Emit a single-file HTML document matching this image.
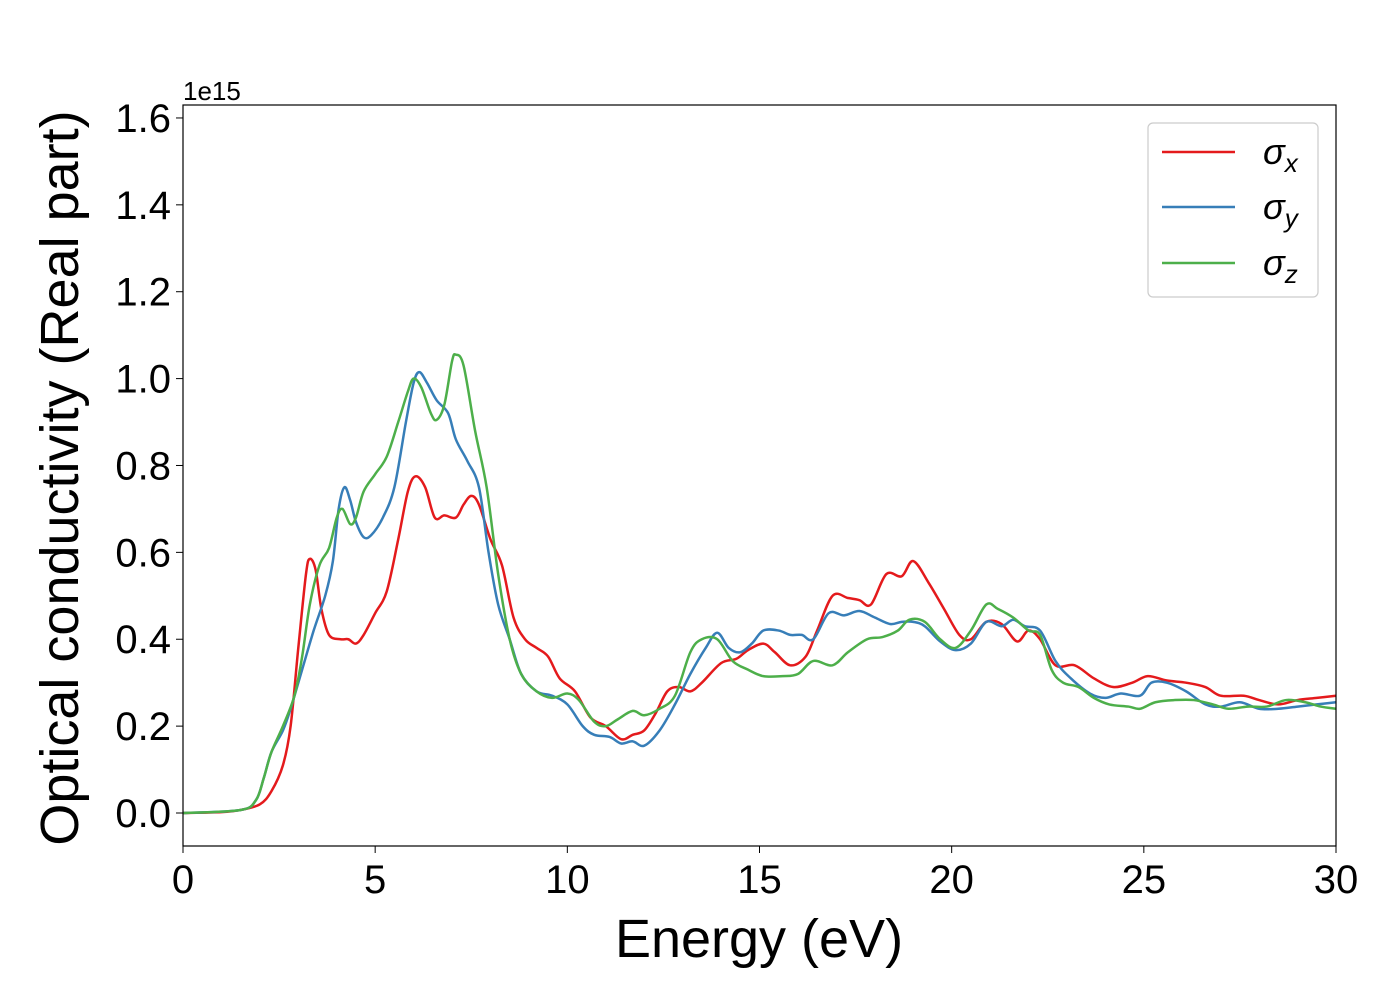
<!DOCTYPE html>
<html><head><meta charset="utf-8"><style>
body{margin:0;background:#fff}
svg text{font-family:"Liberation Sans","DejaVu Sans",sans-serif;fill:#000}
</style></head><body>
<svg id="chart" width="1400" height="1000" xmlns="http://www.w3.org/2000/svg">
<g id="axes"></g>
<g id="series"></g>
<rect x="183" y="105" width="1153" height="741" fill="none" stroke="#000" stroke-width="1.2"/>
<text x="183" y="100" font-size="26">1e15</text>
<text x="759" y="957" font-size="54" text-anchor="middle">Energy (eV)</text>
<text transform="translate(78,478) rotate(-90)" font-size="54" text-anchor="middle">Optical conductivity (Real part)</text>
<g>
<rect x="1148" y="123" width="170" height="174" rx="5" fill="#fff" stroke="#ccc" stroke-width="1.2"/>
<line x1="1162" y1="152" x2="1235" y2="152" stroke="#e41a1c" stroke-width="2.5"/>
<text x="1263" y="164" font-size="36" font-style="italic">σ<tspan font-size="26" dy="8">x</tspan></text>
<line x1="1162" y1="207" x2="1235" y2="207" stroke="#377eb8" stroke-width="2.5"/>
<text x="1263" y="219" font-size="36" font-style="italic">σ<tspan font-size="26" dy="8">y</tspan></text>
<line x1="1162" y1="263" x2="1235" y2="263" stroke="#4daf4a" stroke-width="2.5"/>
<text x="1263" y="275" font-size="36" font-style="italic">σ<tspan font-size="26" dy="8">z</tspan></text>
</g>
</svg>
<script>
const xTicks=[0,5,10,15,20,25,30];
const yTicks=[0.0,0.2,0.4,0.6,0.8,1.0,1.2,1.4,1.6];
const sigmaX=[[0,0],[1,0.002],[1.5,0.007],[2,0.02],[2.3,0.05],[2.6,0.11],[2.8,0.2],[3.0,0.38],[3.2,0.55],[3.3,0.585],[3.45,0.56],[3.6,0.47],[3.8,0.41],[4.1,0.40],[4.3,0.40],[4.5,0.39],[4.7,0.41],[5.0,0.46],[5.3,0.51],[5.6,0.63],[5.85,0.74],[6.05,0.775],[6.3,0.75],[6.55,0.68],[6.8,0.685],[7.1,0.68],[7.3,0.71],[7.5,0.73],[7.7,0.71],[8.0,0.63],[8.3,0.57],[8.6,0.45],[8.9,0.40],[9.2,0.38],[9.5,0.36],[9.8,0.31],[10.2,0.28],[10.6,0.22],[11.0,0.20],[11.4,0.17],[11.7,0.18],[12.0,0.19],[12.3,0.23],[12.6,0.28],[12.9,0.29],[13.2,0.28],[13.5,0.30],[14.0,0.345],[14.4,0.355],[14.7,0.375],[15.1,0.39],[15.4,0.37],[15.8,0.34],[16.2,0.36],[16.5,0.42],[16.9,0.50],[17.3,0.495],[17.6,0.49],[17.9,0.48],[18.3,0.55],[18.7,0.545],[19.0,0.58],[19.4,0.53],[19.8,0.47],[20.2,0.41],[20.5,0.40],[20.9,0.44],[21.3,0.435],[21.7,0.395],[22.0,0.42],[22.3,0.40],[22.7,0.34],[23.2,0.34],[23.7,0.31],[24.2,0.29],[24.7,0.30],[25.1,0.315],[25.6,0.305],[26.1,0.30],[26.6,0.29],[27.0,0.27],[27.6,0.27],[28.0,0.26],[28.5,0.25],[29.0,0.26],[29.5,0.265],[30,0.27]];
const sigmaY=[[0,0],[1.5,0.007],[1.9,0.03],[2.1,0.08],[2.3,0.14],[2.6,0.19],[2.8,0.24],[3.1,0.33],[3.4,0.42],[3.7,0.50],[3.9,0.58],[4.05,0.70],[4.2,0.75],[4.35,0.72],[4.5,0.67],[4.7,0.635],[4.9,0.64],[5.2,0.68],[5.5,0.75],[5.8,0.90],[6.0,0.99],[6.15,1.015],[6.35,0.99],[6.6,0.95],[6.9,0.92],[7.1,0.86],[7.4,0.81],[7.7,0.75],[7.95,0.60],[8.2,0.48],[8.5,0.40],[8.8,0.32],[9.2,0.28],[9.6,0.27],[10.0,0.25],[10.4,0.20],[10.7,0.18],[11.1,0.175],[11.4,0.16],[11.7,0.165],[12.0,0.155],[12.4,0.19],[12.8,0.25],[13.2,0.32],[13.6,0.38],[13.9,0.415],[14.2,0.38],[14.5,0.37],[14.8,0.39],[15.1,0.42],[15.5,0.42],[15.8,0.41],[16.1,0.41],[16.4,0.40],[16.8,0.46],[17.2,0.455],[17.6,0.465],[18.0,0.45],[18.4,0.435],[18.7,0.44],[19.0,0.44],[19.3,0.43],[19.7,0.395],[20.1,0.375],[20.5,0.39],[20.9,0.44],[21.3,0.43],[21.6,0.445],[21.9,0.43],[22.3,0.42],[22.7,0.35],[23.1,0.31],[23.6,0.275],[24.0,0.265],[24.4,0.275],[24.9,0.27],[25.2,0.30],[25.6,0.30],[26.1,0.28],[26.6,0.25],[27.0,0.245],[27.5,0.255],[28.0,0.24],[28.5,0.24],[29.0,0.245],[29.5,0.25],[30,0.255]];
const sigmaZ=[[0,0],[1.5,0.007],[1.9,0.03],[2.1,0.08],[2.3,0.14],[2.6,0.20],[2.9,0.27],[3.1,0.36],[3.3,0.48],[3.55,0.57],[3.8,0.61],[4.0,0.68],[4.15,0.70],[4.35,0.665],[4.5,0.68],[4.7,0.74],[5.0,0.78],[5.3,0.82],[5.6,0.90],[5.85,0.97],[6.0,1.0],[6.2,0.98],[6.45,0.92],[6.6,0.905],[6.8,0.94],[7.0,1.04],[7.1,1.055],[7.3,1.03],[7.6,0.88],[7.9,0.75],[8.2,0.55],[8.5,0.40],[8.8,0.32],[9.2,0.28],[9.6,0.265],[10.0,0.275],[10.3,0.26],[10.7,0.21],[11.0,0.20],[11.3,0.215],[11.7,0.235],[12.0,0.225],[12.4,0.24],[12.8,0.27],[13.2,0.37],[13.5,0.40],[13.9,0.40],[14.3,0.35],[14.7,0.33],[15.1,0.315],[15.6,0.315],[16.0,0.32],[16.4,0.35],[16.9,0.34],[17.3,0.37],[17.8,0.40],[18.2,0.405],[18.6,0.42],[18.9,0.445],[19.3,0.44],[19.7,0.40],[20.1,0.38],[20.5,0.42],[20.9,0.48],[21.2,0.47],[21.6,0.45],[22.0,0.42],[22.3,0.41],[22.6,0.33],[22.9,0.30],[23.3,0.29],[23.7,0.265],[24.1,0.25],[24.6,0.245],[24.9,0.24],[25.3,0.255],[25.8,0.26],[26.3,0.26],[26.8,0.25],[27.2,0.24],[27.7,0.245],[28.2,0.245],[28.7,0.26],[29.2,0.255],[29.6,0.245],[30,0.24]];
const NS='http://www.w3.org/2000/svg';
const X0=183,X1=1336,xMin=0,xMax=30;
const Y0=813,yPx=434.4;
function sx(v){return X0+(v-xMin)/(xMax-xMin)*(X1-X0);}
function sy(v){return Y0-v*yPx;}
const axes=document.getElementById('axes');
xTicks.forEach(t=>{
 const l=document.createElementNS(NS,'line');
 
 
 l.setAttribute('x1',sx(t));l.setAttribute('x2',sx(t));l.setAttribute('y1',846);l.setAttribute('y2',853);l.setAttribute('stroke','#000');
 axes.appendChild(l);
 const tx=document.createElementNS(NS,'text');
 
 
 tx.setAttribute('x',sx(t));tx.setAttribute('y',893);tx.setAttribute('font-size','40');tx.setAttribute('text-anchor','middle');
 tx.textContent=t;axes.appendChild(tx);
});
yTicks.forEach(t=>{
 const l=document.createElementNS(NS,'line');
 
 
 l.setAttribute('x1',176);l.setAttribute('x2',183);l.setAttribute('y1',sy(t));l.setAttribute('y2',sy(t));l.setAttribute('stroke','#000');
 axes.appendChild(l);
 const tx=document.createElementNS(NS,'text');
 
 
 tx.setAttribute('x',171);tx.setAttribute('y',sy(t)+14);tx.setAttribute('font-size','40');tx.setAttribute('text-anchor','end');
 tx.textContent=t.toFixed(1);axes.appendChild(tx);
});
function pathFor(d){
 const p=d.map(q=>[sx(q[0]),sy(q[1])]);
 let s='M'+p[0][0]+','+p[0][1];
 for(let i=0;i<p.length-1;i++){
  const a=p[Math.max(0,i-1)],b=p[i],c=p[i+1],e=p[Math.min(p.length-1,i+2)];
  const c1=[b[0]+(c[0]-a[0])/6,b[1]+(c[1]-a[1])/6],c2=[c[0]-(e[0]-b[0])/6,c[1]-(e[1]-b[1])/6];
  s+=' C'+c1[0]+','+c1[1]+' '+c2[0]+','+c2[1]+' '+c[0]+','+c[1];
 }
 return s;
}
const ser=document.getElementById('series');
const px=document.createElementNS(NS,'path');


px.setAttribute('d',pathFor(sigmaX));px.setAttribute('fill','none');px.setAttribute('stroke','#e41a1c');px.setAttribute('stroke-width','2.5');
ser.appendChild(px);
const py=document.createElementNS(NS,'path');


py.setAttribute('d',pathFor(sigmaY));py.setAttribute('fill','none');py.setAttribute('stroke','#377eb8');py.setAttribute('stroke-width','2.5');
ser.appendChild(py);
const pz=document.createElementNS(NS,'path');


pz.setAttribute('d',pathFor(sigmaZ));pz.setAttribute('fill','none');pz.setAttribute('stroke','#4daf4a');pz.setAttribute('stroke-width','2.5');
ser.appendChild(pz);
</script>
</body></html>
